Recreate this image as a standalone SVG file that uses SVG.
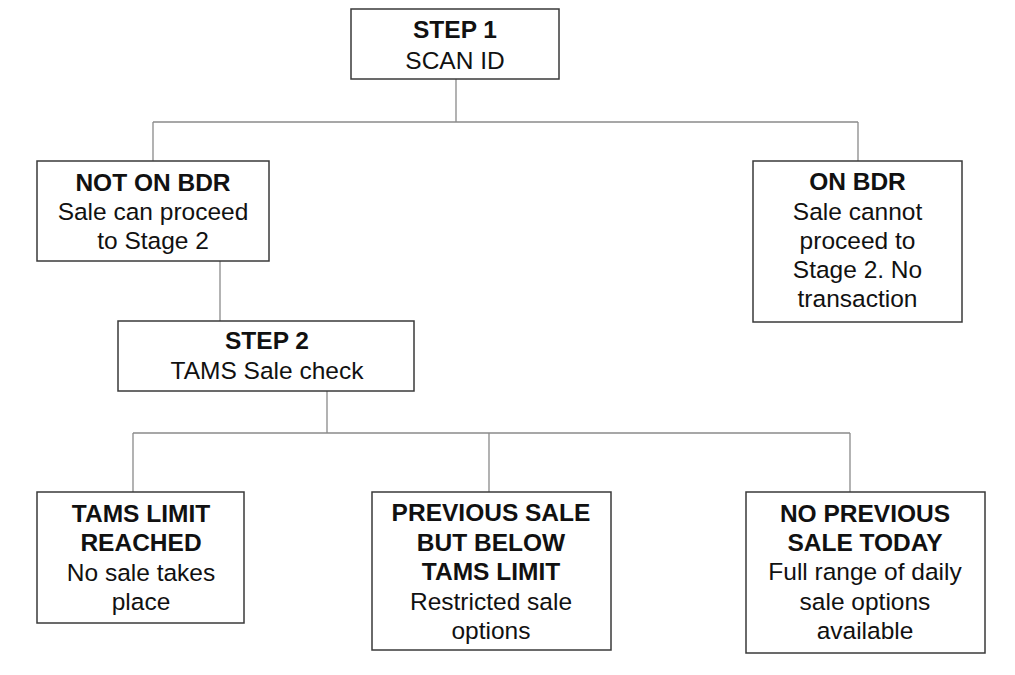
<svg xmlns="http://www.w3.org/2000/svg" width="1015" height="675" viewBox="0 0 1015 675">
<style>
.box{fill:#fff;stroke:#3a3a3a;stroke-width:1.5}
.con{fill:none;stroke:#8a8a8a;stroke-width:1.3}
text{font-family:"Liberation Sans",Arial,sans-serif;font-size:24.5px;fill:#111;text-anchor:middle}
.b{font-weight:bold}
</style>
<rect width="1015" height="675" fill="#fff"/>
<g id="connectors">
<path class="con" d="M456 79V122M153 122H858M153 122V161M858 122V161"/>
<path class="con" d="M220 261V321"/>
<path class="con" d="M327 391V433M133 433H850M133 433V492M489 433V492M850 433V492"/>
</g>
<g id="step1">
<rect class="box" x="351" y="9" width="208" height="70"/>
<text x="455" y="38" class="b">STEP 1</text>
<text x="455" y="69">SCAN ID</text>
</g>
<g id="not-on-bdr">
<rect class="box" x="37" y="161" width="232" height="100"/>
<text x="153" y="191" class="b">NOT ON BDR</text>
<text x="153" y="220">Sale can proceed</text>
<text x="153" y="249">to Stage 2</text>
</g>
<g id="on-bdr">
<rect class="box" x="753" y="161" width="209" height="161"/>
<text x="857.5" y="190" class="b">ON BDR</text>
<text x="857.5" y="220">Sale cannot</text>
<text x="857.5" y="249">proceed to</text>
<text x="857.5" y="278">Stage 2. No</text>
<text x="857.5" y="307">transaction</text>
</g>
<g id="step2">
<rect class="box" x="118" y="321" width="296" height="70"/>
<text x="267" y="349" class="b">STEP 2</text>
<text x="267" y="379">TAMS Sale check</text>
</g>
<g id="tams-limit">
<rect class="box" x="37" y="492" width="207" height="131"/>
<text x="141" y="522" class="b">TAMS LIMIT</text>
<text x="141" y="551" class="b">REACHED</text>
<text x="141" y="581">No sale takes</text>
<text x="141" y="610">place</text>
</g>
<g id="previous-sale">
<rect class="box" x="372" y="492" width="239" height="158"/>
<text x="491" y="521" class="b">PREVIOUS SALE</text>
<text x="491" y="550.5" class="b">BUT BELOW</text>
<text x="491" y="580" class="b">TAMS LIMIT</text>
<text x="491" y="609.5">Restricted sale</text>
<text x="491" y="639">options</text>
</g>
<g id="no-previous">
<rect class="box" x="746" y="492" width="239" height="161"/>
<text x="865" y="521.5" class="b">NO PREVIOUS</text>
<text x="865" y="551" class="b">SALE TODAY</text>
<text x="865" y="580">Full range of daily</text>
<text x="865" y="609.5">sale options</text>
<text x="865" y="639">available</text>
</g>
</svg>
